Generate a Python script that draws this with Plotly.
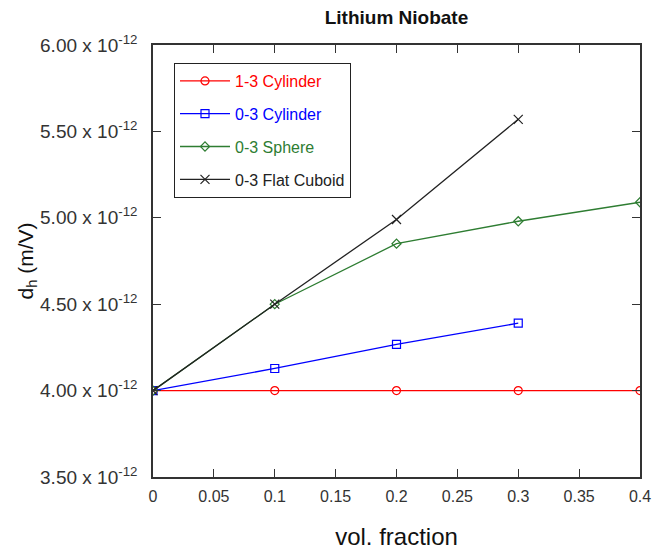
import plotly.graph_objects as go

vol_fraction = [0, 0.1, 0.2, 0.3, 0.4]
cyl13 = [4.0e-12, 4.0e-12, 4.0e-12, 4.0e-12, 4.0e-12]
x_cyl03 = [0, 0.1, 0.2, 0.3]
cyl03 = [4.0e-12, 4.128e-12, 4.267e-12, 4.39e-12]
sphere03 = [4.0e-12, 4.5e-12, 4.85e-12, 4.98e-12, 5.09e-12]
x_cub = [0, 0.1, 0.2, 0.3]
cuboid03 = [4.0e-12, 4.5e-12, 4.99e-12, 5.57e-12]

y_tickvals = [3.5e-12, 4.0e-12, 4.5e-12, 5.0e-12, 5.5e-12, 6.0e-12]
y_ticktext = ["3.50 x 10<sup>-12</sup>", "4.00 x 10<sup>-12</sup>", "4.50 x 10<sup>-12</sup>",
              "5.00 x 10<sup>-12</sup>", "5.50 x 10<sup>-12</sup>", "6.00 x 10<sup>-12</sup>"]
x_tickvals = [0, 0.05, 0.1, 0.15, 0.2, 0.25, 0.3, 0.35, 0.4]
x_ticktext = ["0", "0.05", "0.1", "0.15", "0.2", "0.25", "0.3", "0.35", "0.4"]

series = [
    ("1-3 Cylinder", vol_fraction, cyl13, "#ff0000", "circle-open", 8),
    ("0-3 Cylinder", x_cyl03, cyl03, "#0000ff", "square-open", 8),
    ("0-3 Sphere", vol_fraction, sphere03, "#2e7d32", "diamond-open", 7),
    ("0-3 Flat Cuboid", x_cub, cuboid03, "#222222", "x-thin-open", 9),
]

FONT = "Arial, Liberation Sans"

fig = go.Figure()
for i, (name, xs, ys, col, sym, sz) in enumerate(series):
    fig.add_trace(go.Scatter(
        x=xs, y=ys, mode="lines+markers",
        name=f'<span style="color:{col}">{name}</span>',
        legendgroup=f"g{i}",
        line=dict(color=col, width=1.3),
        marker=dict(symbol=sym, size=sz, color=col, line=dict(color=col, width=1.2)),
    ))

axis_common = dict(
    showgrid=False, zeroline=False, showline=True, linecolor="#333333", linewidth=1.5,
    mirror="allticks", ticks="inside", ticklen=8, tickwidth=1.2, tickcolor="#333333",
    automargin=False,
)

fig.update_layout(
    width=653, height=556,
    margin=dict(l=153, r=13, t=45, b=79),
    paper_bgcolor="white", plot_bgcolor="white",
    title=dict(text="<b>Lithium Niobate</b>", x=(153 + 640) / 2 / 653, xanchor="center",
               y=1 - 17 / 556, yanchor="middle",
               font=dict(family=FONT, size=19, color="#111111")),
    xaxis=dict(range=[0, 0.4], tickvals=x_tickvals, ticktext=x_ticktext,
               tickfont=dict(family=FONT, size=16, color="#333333"),
               ticklabelstandoff=4,
               title=dict(text="vol. fraction", standoff=24,
                          font=dict(family=FONT, size=24, color="#111111")),
               **axis_common),
    yaxis=dict(range=[3.5e-12, 6.0e-12], tickvals=y_tickvals, ticktext=y_ticktext,
               tickfont=dict(family=FONT, size=19, color="#333333"),
               ticklabelstandoff=10,
               title=dict(text="d<sub>h</sub> (m/V)", standoff=0,
                          font=dict(family=FONT, size=21, color="#111111")),
               **axis_common),
    showlegend=True,
    legend=dict(x=(174 - 153) / 487, y=1 - (63 - 45) / 432, xanchor="left", yanchor="top",
                bgcolor="white", bordercolor="#222222", borderwidth=1,
                traceorder="grouped", tracegroupgap=9, itemwidth=50,
                font=dict(family=FONT, size=16)),
)

fig.write_html("out.html")
